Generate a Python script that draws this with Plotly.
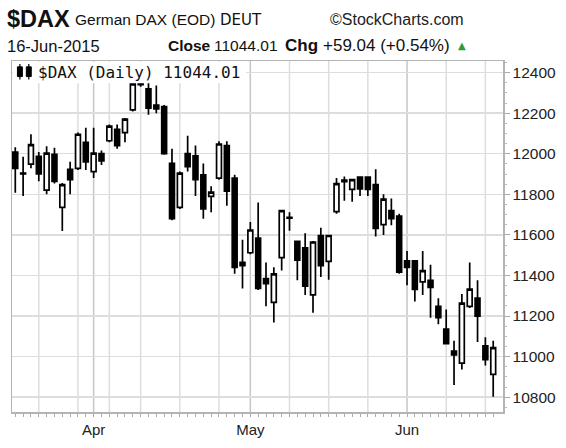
import plotly.graph_objects as go
from datetime import date

# ---------------- data ----------------
dates = ["2015-03-18", "2015-03-19", "2015-03-20", "2015-03-23", "2015-03-24", "2015-03-25",
         "2015-03-26", "2015-03-27", "2015-03-30", "2015-03-31", "2015-04-01", "2015-04-02",
         "2015-04-07", "2015-04-08", "2015-04-09", "2015-04-10", "2015-04-13", "2015-04-14",
         "2015-04-15", "2015-04-16", "2015-04-17", "2015-04-20", "2015-04-21", "2015-04-22",
         "2015-04-23", "2015-04-24", "2015-04-27", "2015-04-28", "2015-04-29", "2015-04-30",
         "2015-05-04", "2015-05-05", "2015-05-06", "2015-05-07", "2015-05-08", "2015-05-11",
         "2015-05-12", "2015-05-13", "2015-05-14", "2015-05-15", "2015-05-18", "2015-05-19",
         "2015-05-20", "2015-05-21", "2015-05-22", "2015-05-25", "2015-05-26", "2015-05-27",
         "2015-05-28", "2015-05-29", "2015-06-01", "2015-06-02", "2015-06-03", "2015-06-04",
         "2015-06-05", "2015-06-08", "2015-06-09", "2015-06-10", "2015-06-11", "2015-06-12",
         "2015-06-15", "2015-06-16"]

opens = [12008, 11905, 11949, 11987, 11821, 11997, 11736, 11923, 11928, 12056,
         11912, 12000, 12064, 12120, 12104, 12216, 12340, 12320, 12240, 12232,
         11952, 11736, 12000, 11990, 11896, 11790, 11880, 12040, 11880, 11464,
         11512, 11584, 11384, 11267, 11488, 11682, 11568, 11536, 11304, 11597,
         11469, 11715, 11870, 11824, 11885, 11885, 11848, 11651, 11720, 11693,
         11472, 11472, 11368, 11376, 11248, 11136, 11027, 10968, 11248, 11288,
         11053, 10912]
highs = [12032, 11985, 12096, 12008, 12037, 12029, 11856, 11960, 12104, 12128,
         12128, 12016, 12144, 12144, 12176, 12352, 12380, 12352, 12336, 12240,
         12024, 11912, 12088, 12040, 11952, 11840, 12061, 12061, 11896, 11576,
         11664, 11760, 11464, 11440, 11720, 11712, 11570, 11608, 11570, 11635,
         11600, 11880, 11888, 11875, 11888, 11888, 11923, 11800, 11779, 11704,
         11520, 11472, 11520, 11453, 11288, 11232, 11078, 11309, 11464, 11376,
         11096, 11078]
lows = [11808, 11792, 11928, 11864, 11800, 11853, 11619, 11800, 11920, 11920,
        11880, 11944, 12056, 12024, 12056, 12208, 12330, 12192, 12200, 11995,
        11672, 11728, 11912, 11792, 11680, 11712, 11872, 11744, 11408, 11336,
        11504, 11328, 11248, 11168, 11424, 11620, 11376, 11304, 11216, 11392,
        11379, 11704, 11768, 11763, 11792, 11792, 11592, 11600, 11648, 11408,
        11352, 11272, 11304, 11192, 11160, 11064, 10860, 10936, 11240, 11072,
        10956, 10802]
closes = [11928, 11900, 12045, 11901, 12003, 11864, 11848, 11872, 12096, 11960,
          12003, 11965, 12136, 12040, 12171, 12344, 12350, 12224, 12221, 12000,
          11680, 11904, 11936, 11872, 11728, 11811, 12048, 11816, 11440, 11448,
          11624, 11336, 11360, 11408, 11720, 11686, 11475, 11347, 11565, 11448,
          11597, 11853, 11862, 11872, 11827, 11824, 11632, 11776, 11680, 11416,
          11440, 11331, 11424, 11341, 11192, 11064, 11008, 11264, 11333, 11200,
          10985, 11044]

y_ticks = [10800, 11000, 11200, 11400, 11600, 11800, 12000, 12200, 12400]
month_names = {3: "Mar", 4: "Apr", 5: "May", 6: "Jun"}

title_symbol = "$DAX"
title_name = "German DAX (EOD)"
title_exchange = "DEUT"
copyright_text = "\u00a9StockCharts.com"
date_text = "16-Jun-2015"
close_text = "11044.01"
chg_text = "+59.04 (+0.54%)"
legend_text = "$DAX (Daily) 11044.01"

# ---------------- geometry helpers ----------------
W, H = 566, 448
ML, MR, MT, MB = 10, 59, 61, 26
PW, PH = W - ML - MR, H - MT - MB


def px(x):
    return (x - ML) / PW


def py(y):
    return (H - MB - y) / PH


# tick labels: month name at first trading day of a new month
dd = [date.fromisoformat(d) for d in dates]
ticktext = []
for i, d in enumerate(dd):
    if i > 0 and d.month != dd[i - 1].month:
        ticktext.append(month_names[d.month])
    else:
        ticktext.append("")

week_starts = [i for i in range(1, len(dd)) if dd[i].isocalendar()[1] != dd[i - 1].isocalendar()[1]]
month_starts = [i for i in range(1, len(dd)) if dd[i].month != dd[i - 1].month]

shapes = []
for i in sorted(set(week_starts) - set(month_starts)):
    shapes.append(dict(type="line", xref="x", yref="paper", x0=i, x1=i, y0=0, y1=1,
                       line=dict(color="#dddddd", width=1.5), layer="below"))
for i in month_starts:
    shapes.append(dict(type="line", xref="x", yref="paper", x0=i, x1=i, y0=0, y1=1,
                       line=dict(color="#c6c6c6", width=1.5), layer="below"))

# white box behind the in-plot legend
shapes.append(dict(type="rect", xref="paper", yref="paper", x0=px(10.8), x1=px(247),
                   y0=py(84), y1=py(61.8), fillcolor="white", line=dict(width=0), layer="above"))
# tiny candlestick icon
for cx in (18.0, 27.0):
    shapes.append(dict(type="line", xref="paper", yref="paper", x0=px(cx), x1=px(cx),
                       y0=py(80), y1=py(64), line=dict(color="black", width=1.2), layer="above"))
    shapes.append(dict(type="rect", xref="paper", yref="paper", x0=px(cx - 2.5), x1=px(cx + 2.5),
                       y0=py(77), y1=py(67), fillcolor="black", line=dict(color="black", width=1),
                       layer="above"))

fig = go.Figure()
fig.add_trace(go.Candlestick(
    x=dates, open=opens, high=highs, low=lows, close=closes,
    increasing=dict(line=dict(color="black", width=1.7), fillcolor="white"),
    decreasing=dict(line=dict(color="black", width=1.7), fillcolor="black"),
    whiskerwidth=0, showlegend=False, hoverinfo="skip",
))

base_font = "Liberation Sans, Arial, sans-serif"
annotations = [
    dict(text="<b>" + title_symbol + "</b>", x=px(3), y=py(17.5), xanchor="left", yanchor="middle",
         font=dict(family=base_font, size=23.5, color="#111")),
    dict(text=title_name, x=px(72), y=py(18), xanchor="left", yanchor="middle",
         font=dict(family=base_font, size=15.5, color="#111")),
    dict(text=title_exchange, x=px(219), y=py(18.5), xanchor="left", yanchor="middle",
         font=dict(family="DejaVu Sans", size=15, color="#111")),
    dict(text=copyright_text, x=px(400), y=py(18), xanchor="center", yanchor="middle",
         font=dict(family=base_font, size=16, color="#222")),
    dict(text=date_text, x=px(3), y=py(45.5), xanchor="left", yanchor="middle",
         font=dict(family=base_font, size=16.5, color="#111")),
    dict(text="<b>Close</b>", x=px(166), y=py(45), xanchor="left", yanchor="middle",
         font=dict(family=base_font, size=15.5, color="#111")),
    dict(text=close_text, x=px(212), y=py(45.5), xanchor="left", yanchor="middle",
         font=dict(family=base_font, size=15.5, color="#111")),
    dict(text="<b>Chg</b>", x=px(284), y=py(45), xanchor="left", yanchor="middle",
         font=dict(family=base_font, size=17, color="#111")),
    dict(text=chg_text, x=px(323), y=py(45.5), xanchor="left", yanchor="middle",
         font=dict(family=base_font, size=17, color="#111")),
    dict(text="\u25b2", x=px(466), y=py(45.5), xanchor="center", yanchor="middle",
         font=dict(family="DejaVu Sans", size=10, color="#2e9b3a")),
    dict(text=legend_text, x=px(34), y=py(73), xanchor="left", yanchor="middle",
         font=dict(family="DejaVu Sans Mono", size=16, color="#111")),
]
for a in annotations:
    a.update(xref="paper", yref="paper", showarrow=False)

fig.update_layout(
    width=W, height=H,
    margin=dict(l=ML, r=MR, t=MT, b=MB),
    paper_bgcolor="white", plot_bgcolor="white",
    boxgap=0.38, boxgroupgap=0,
    showlegend=False,
    shapes=shapes,
    annotations=annotations,
    xaxis=dict(
        type="category", range=[-0.42, len(dates) + 0.25],
        tickmode="array", tickvals=dates, ticktext=ticktext,
        ticks="outside", ticklen=3, tickcolor="#aaaaaa", tickwidth=1,
        showgrid=False, showline=True, mirror=True, linecolor="#b4b4b4", linewidth=1.5,
        zeroline=False, rangeslider=dict(visible=False), fixedrange=True,
        tickfont=dict(family=base_font, size=15, color="#222"),
    ),
    yaxis=dict(
        side="right", range=[10727, 12457],
        tickmode="array", tickvals=y_ticks, ticktext=[str(v) for v in y_ticks],
        ticks="outside", ticklen=5, tickcolor="#aaaaaa",
        showgrid=True, gridcolor="#dddddd", gridwidth=1.5,
        showline=True, mirror=True, linecolor="#b4b4b4", linewidth=1.5,
        zeroline=False, fixedrange=True,
        minor=dict(tickmode="linear", tick0=10800, dtick=50, ticks="outside", ticklen=2,
                   tickcolor="#bbbbbb", showgrid=False),
        tickfont=dict(family=base_font, size=15.5, color="#222"),
    ),
)

fig.write_html(
    "out.html",
    config={"displayModeBar": False, "staticPlot": True},
    post_script="document.body.style.margin='0';document.body.style.overflow='hidden';",
)
